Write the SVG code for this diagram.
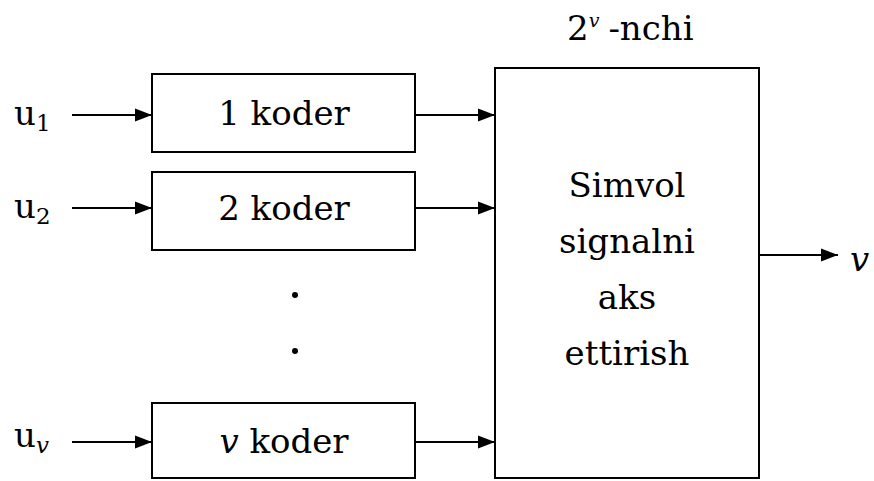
<svg xmlns="http://www.w3.org/2000/svg" width="874" height="481" viewBox="0 0 874 481">
<style>
  .box { fill: #fff; stroke: #000; stroke-width: 2; }
  .t { font-family: 'DejaVu Serif', 'Liberation Serif', serif; font-size: 34px; fill: #000; }
  .mid { text-anchor: middle; }
  .it { font-style: italic; }
  .sub { font-size: 23px; }
  .con { stroke: #000; stroke-width: 2; fill: none; marker-end: url(#arr); }
</style>
<defs>
  <marker id="arr" markerUnits="userSpaceOnUse" markerWidth="18" markerHeight="14" refX="17" refY="7" orient="auto">
    <path d="M0,0.5 L17,7 L0,13.5 Z" fill="#000"/>
  </marker>
</defs>
<rect width="874" height="481" fill="#fff"/>
<g id="inputs">
  <text class="t" x="14" y="125">u<tspan class="sub" dy="6">1</tspan></text>
  <text class="t" x="14" y="218">u<tspan class="sub" dy="6">2</tspan></text>
  <text class="t" x="14" y="447">u<tspan class="sub it" dy="6">v</tspan></text>
</g>

<g id="coder1">
  <rect class="box" x="152" y="74" width="263" height="78"/>
  <text class="t mid" x="284" y="125">1 koder</text>
</g>
<g id="coder2">
  <rect class="box" x="152" y="172" width="263" height="78"/>
  <text class="t mid" x="284" y="220">2 koder</text>
</g>
<g id="dots">
  <circle cx="295" cy="295" r="3" fill="#000"/>
  <circle cx="295" cy="351" r="3" fill="#000"/>
</g>
<g id="coderv">
  <rect class="box" x="152" y="403" width="263" height="75"/>
  <text class="t mid" x="284" y="453"><tspan class="it">v</tspan> koder</text>
</g>

<g id="mapper">
  <rect class="box" x="495" y="68" width="264" height="410"/>
  <text class="t mid" x="627" y="197">Simvol</text>
  <text class="t mid" x="627" y="253">signalni</text>
  <text class="t mid" x="627" y="309">aks</text>
  <text class="t mid" x="627" y="365">ettirish</text>
</g>

<g id="title">
  <text class="t" x="567" y="40">2<tspan class="it" style="font-size:19px" dy="-13">v</tspan><tspan dx="9" dy="13">-nchi</tspan></text>
</g>

<g id="output">
  <text class="t it" x="850" y="271">v</text>
</g>
<g id="connectors">
  <line class="con" x1="72" y1="115" x2="152" y2="115"/>
  <line class="con" x1="72" y1="208" x2="152" y2="208"/>
  <line class="con" x1="72" y1="442" x2="152" y2="442"/>
  <line class="con" x1="415" y1="115" x2="495" y2="115"/>
  <line class="con" x1="415" y1="208" x2="495" y2="208"/>
  <line class="con" x1="415" y1="442" x2="495" y2="442"/>
  <line class="con" x1="759" y1="255" x2="838" y2="255"/>
</g>
</svg>
